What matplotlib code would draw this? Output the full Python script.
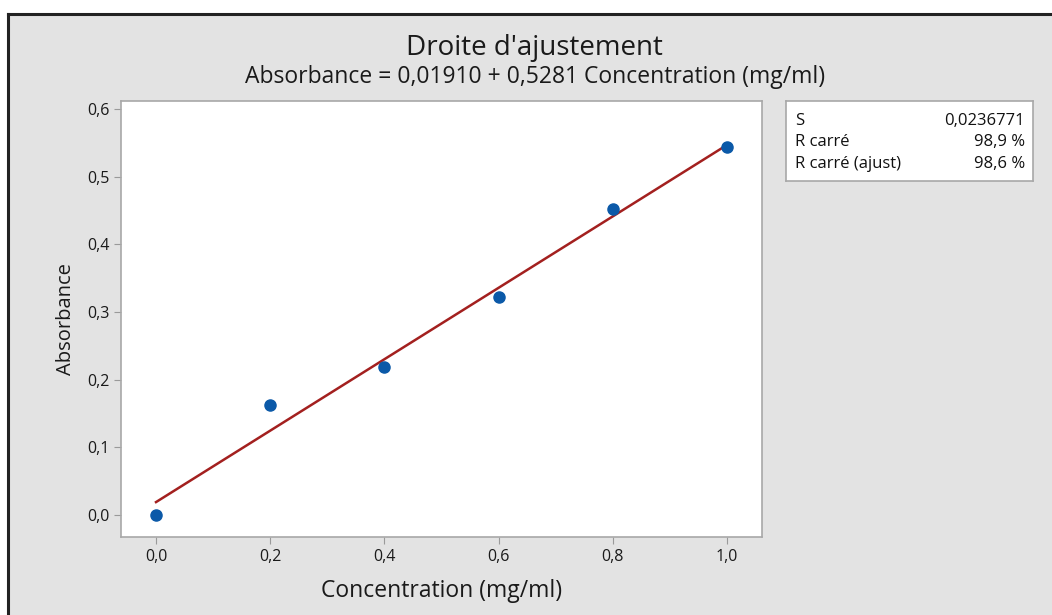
import matplotlib
matplotlib.use("Agg")
import numpy as np
from matplotlib import pyplot as plt
from matplotlib.ticker import FuncFormatter
from matplotlib.patches import Rectangle
from matplotlib.lines import Line2D

concentration = [0.0, 0.2, 0.4, 0.6, 0.8, 1.0]
absorbance = [0.0, 0.163, 0.219, 0.322, 0.452, 0.544]
intercept = 0.01910
slope = 0.5281
stat_names = ['S', 'R carré', 'R carré (ajust)']
stat_values = ['0,0236771', '98,9 %', '98,6 %']

plt.rcParams['font.family'] = ['Open Sans', 'DejaVu Sans']

fig = plt.figure(figsize=(10.52, 6.15), dpi=100)
fig.patch.set_facecolor('white')
# grey panel with dark frame on top and left
fig.patches.append(Rectangle((8 / 1052, 0), 1, 1 - 14 / 615, transform=fig.transFigure,
                             facecolor='#e3e3e3', edgecolor='none', zorder=-10))
fig.lines.append(Line2D([8 / 1052, 1], [1 - 14 / 615] * 2, transform=fig.transFigure,
                        color='#222222', lw=2.2))
fig.lines.append(Line2D([8 / 1052] * 2, [0, 1 - 14 / 615], transform=fig.transFigure,
                        color='#222222', lw=2.2))

ax = fig.add_axes([121 / 1052, 1 - 537 / 615, 641 / 1052, 436 / 615])
ax.set_facecolor('white')

xfit = np.array([0.0, 1.0])
ax.plot(xfit, intercept + slope * xfit, color='#a3201f', lw=1.8, zorder=2)
ax.plot(concentration, absorbance, 'o', color='#0b59a8', markersize=8, zorder=3)

ax.set_xlim(-0.0613, 1.061)
ax.set_ylim(-0.0325, 0.612)
ax.set_xticks([0.0, 0.2, 0.4, 0.6, 0.8, 1.0])
ax.set_yticks([0.0, 0.1, 0.2, 0.3, 0.4, 0.5, 0.6])
fmt = FuncFormatter(lambda v, p: f'{v:.1f}'.replace('.', ','))
ax.xaxis.set_major_formatter(fmt)
ax.yaxis.set_major_formatter(fmt)
ax.tick_params(direction='out', length=5, color='#9a9a9a', labelsize=11.5,
               labelcolor='#1a1a1a')
for s in ax.spines.values():
    s.set_color('#a8a8a8')
    s.set_linewidth(1.2)

ax.set_xlabel('Concentration (mg/ml)', fontsize=16.5, color='#1a1a1a', labelpad=10)
ax.set_ylabel('Absorbance', fontsize=14.5, color='#1a1a1a', labelpad=8)

fig.text(534 / 1052, 1 - 48 / 615, "Droite d'ajustement", ha='center', va='center',
         fontsize=20, color='#1a1a1a')
fig.text(535 / 1052, 1 - 77 / 615,
         'Absorbance = 0,01910 + 0,5281 Concentration (mg/ml)',
         ha='center', va='center', fontsize=16.5, color='#1a1a1a')

# statistics box
bx = fig.add_axes([786 / 1052, 1 - 181 / 615, 247 / 1052, 80 / 615])
bx.set_facecolor('white')
bx.set_xticks([])
bx.set_yticks([])
for s in bx.spines.values():
    s.set_color('#a8a8a8')
    s.set_linewidth(1.2)
for i, (n, v) in enumerate(zip(stat_names, stat_values)):
    y = 1 - (20 + 21.5 * i) / 80
    bx.text(9 / 247, y, n, transform=bx.transAxes, ha='left', va='center',
            fontsize=12, color='#111111')
    bx.text(239 / 247, y, v, transform=bx.transAxes, ha='right', va='center',
            fontsize=12, color='#111111')

fig.savefig('out.png', dpi=100)
